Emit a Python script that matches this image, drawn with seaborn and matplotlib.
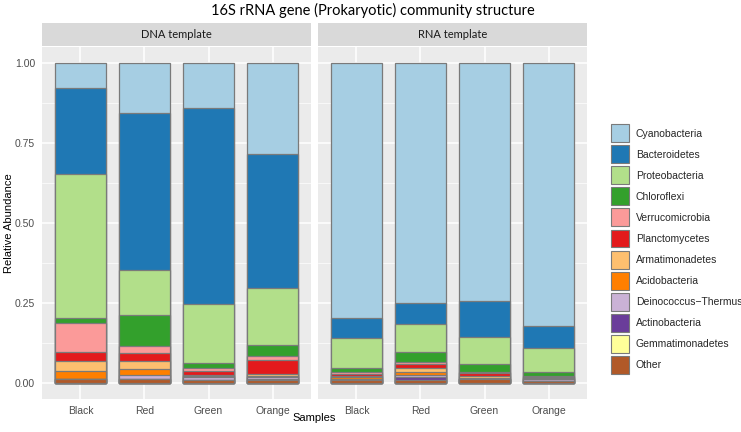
import pandas as pd
import numpy as np
import matplotlib.pyplot as plt
import seaborn as sns
from matplotlib.patches import Patch
from matplotlib.ticker import MultipleLocator

samples = ['Black', 'Red', 'Green', 'Orange']
templates = ['DNA template', 'RNA template']
phyla = ['Cyanobacteria', 'Bacteroidetes', 'Proteobacteria', 'Chloroflexi',
         'Verrucomicrobia', 'Planctomycetes', 'Armatimonadetes', 'Acidobacteria',
         'Deinococcus\u2212Thermus', 'Actinobacteria', 'Gemmatimonadetes', 'Other']
colors = ['#A6CEE3', '#1F78B4', '#B2DF8A', '#33A02C', '#FB9A99', '#E31A1C',
          '#FDBF6F', '#FF7F00', '#CAB2D6', '#6A3D9A', '#FFFF99', '#B15928']

# relative abundance, order Black, Red, Green, Orange
dna = {
    'Cyanobacteria':    [0.078, 0.157, 0.141, 0.284],
    'Bacteroidetes':    [0.270, 0.490, 0.612, 0.419],
    'Proteobacteria':   [0.450, 0.140, 0.185, 0.178],
    'Chloroflexi':      [0.016, 0.097, 0.016, 0.035],
    'Verrucomicrobia':  [0.090, 0.022, 0.010, 0.012],
    'Planctomycetes':   [0.028, 0.025, 0.010, 0.044],
    'Armatimonadetes':  [0.031, 0.025, 0.004, 0.006],
    'Acidobacteria':    [0.025, 0.019, 0.004, 0.004],
    'Deinococcus\u2212Thermus': [0.000, 0.0125, 0.008, 0.006],
    'Actinobacteria':   [0.000, 0.000, 0.000, 0.002],
    'Gemmatimonadetes': [0.000, 0.000, 0.000, 0.000],
    'Other':            [0.012, 0.0125, 0.010, 0.010],
}
rna = {
    'Cyanobacteria':    [0.797, 0.750, 0.743, 0.822],
    'Bacteroidetes':    [0.062, 0.066, 0.113, 0.069],
    'Proteobacteria':   [0.093, 0.087, 0.085, 0.075],
    'Chloroflexi':      [0.015, 0.031, 0.025, 0.012],
    'Verrucomicrobia':  [0.004, 0.006, 0.004, 0.003],
    'Planctomycetes':   [0.006, 0.013, 0.008, 0.004],
    'Armatimonadetes':  [0.005, 0.012, 0.005, 0.002],
    'Acidobacteria':    [0.004, 0.009, 0.003, 0.002],
    'Deinococcus\u2212Thermus': [0.004, 0.006, 0.002, 0.004],
    'Actinobacteria':   [0.000, 0.012, 0.000, 0.002],
    'Gemmatimonadetes': [0.000, 0.000, 0.000, 0.000],
    'Other':            [0.010, 0.008, 0.012, 0.005],
}

rows = []
for tpl, d in zip(templates, [dna, rna]):
    for p in phyla:
        for s, v in zip(samples, d[p]):
            rows.append((tpl, s, p, v))
df = pd.DataFrame(rows, columns=['Template', 'Sample', 'Phylum', 'Abundance'])

sns.set_theme(style='darkgrid', rc={'axes.facecolor': '#EBEBEB', 'grid.color': 'white'})
plt.rcParams['font.family'] = ['Liberation Sans', 'DejaVu Sans']

fig = plt.figure(figsize=(7.41, 4.32), dpi=100)
W, H = 741, 432
edge = '#7A7A7A'

for i, tpl in enumerate(templates):
    x0 = 42 if i == 0 else 318
    ax = fig.add_axes([x0 / W, (H - 399) / H, 269 / W, 352 / H])
    sub = df[df['Template'] == tpl].pivot(index='Sample', columns='Phylum', values='Abundance')
    sub = sub.loc[samples, phyla]
    # stack from bottom (Other) up; draw tallest cumulative first
    cum = sub[phyla[::-1]].cumsum(axis=1)
    for p, c in zip(phyla, colors):
        sns.barplot(x=samples, y=cum[p].values, color=c, saturation=1, width=0.8,
                    edgecolor=edge, linewidth=0.9, ax=ax, order=samples)
    ax.set_xlim(-0.6, 3.6)
    ax.set_ylim(-0.05, 1.05)
    ax.yaxis.set_major_locator(MultipleLocator(0.25))
    ax.yaxis.set_minor_locator(MultipleLocator(0.125))
    ax.grid(which='major', color='white', linewidth=1.1)
    ax.grid(which='minor', axis='y', color='white', linewidth=0.5)
    ax.set_axisbelow(True)
    ax.set_xlabel('')
    ax.set_ylabel('')
    ax.tick_params(axis='both', which='major', length=3, width=0.8, color='#333333',
                   labelsize=7.5, labelcolor='#4D4D4D', pad=2)
    ax.tick_params(axis='y', which='minor', length=0)
    if i == 0:
        ax.set_yticks([0, 0.25, 0.5, 0.75, 1.0])
        ax.set_yticklabels(['0.00', '0.25', '0.50', '0.75', '1.00'])
    else:
        ax.tick_params(axis='y', which='major', length=0, labelleft=False)
    for sp in ax.spines.values():
        sp.set_visible(False)
    # facet strip
    sax = fig.add_axes([x0 / W, (H - 46) / H, 269 / W, 23 / H])
    sax.set_facecolor('#D9D9D9')
    sax.set_xticks([])
    sax.set_yticks([])
    sax.grid(False)
    for sp in sax.spines.values():
        sp.set_visible(False)
    sax.text(0.5, 0.5, tpl, ha='center', va='center', fontsize=8, color='#1A1A1A',
             family=['Lato', 'DejaVu Sans'], transform=sax.transAxes)

fig.text(373 / W, 1 - 10 / H, '16S rRNA gene (Prokaryotic) community structure',
         ha='center', va='center', fontsize=10.5, family=['Lato', 'DejaVu Sans'], color='black')
fig.text(9 / W, (H - 223) / H, 'Relative Abundance', rotation=90, ha='center', va='center',
         fontsize=8, color='black')
fig.text(314 / W, (H - 418) / H, 'Samples', ha='center', va='center', fontsize=8, color='black')

handles = [Patch(facecolor=c, edgecolor=edge, linewidth=0.8, label=p) for p, c in zip(phyla, colors)]
fig.legend(handles=handles, loc='center left', bbox_to_anchor=(611 / W, (H - 249) / H),
           frameon=False, fontsize=7.5, handlelength=1.75, handleheight=2.28,
           labelspacing=0.29, handletextpad=0.65, borderaxespad=0, borderpad=0)

plt.savefig('out.png', dpi=100)
